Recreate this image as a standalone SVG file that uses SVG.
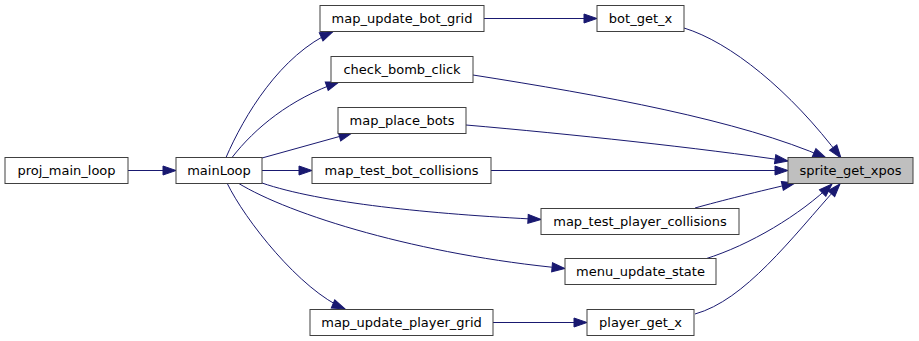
<svg xmlns="http://www.w3.org/2000/svg" width="919" height="341" viewBox="0 0 919 341">
  <style>
    .node rect { fill: #ffffff; stroke: #404040; stroke-width: 1; }
    .node.current rect { fill: #bfbfbf; }
    .node text { font-family: "DejaVu Sans", "Liberation Sans", sans-serif; font-size: 13px; fill: #000000; text-anchor: middle; }
    .edges path { fill: none; stroke: #191970; stroke-width: 1; marker-end: url(#arrow); }
  </style>
  <defs>
    <marker id="arrow" markerUnits="userSpaceOnUse" markerWidth="15" markerHeight="11" refX="14" refY="5.5" orient="auto" viewBox="0 0 15 11">
      <path d="M1,1 L14,5.5 L1,10 Z" fill="#191970" stroke="#191970" stroke-width="1"/>
    </marker>
  </defs>
  <rect width="919" height="341" fill="#ffffff"/>

  <g class="edges">
    <path d="M128,170.5 L176,170.5"/>
    <path d="M226,157.5 C244,116 280,55 333,31.5"/>
    <path d="M232,157.5 C255,128 290,99 339,82"/>
    <path d="M262,158 L352,133"/>
    <path d="M262,170.5 L312,170.5"/>
    <path d="M262,183 C320,203 430,214 541,219.5"/>
    <path d="M238,183 C290,215 420,255 565,268.5"/>
    <path d="M227,183 C245,220 300,290 345,309"/>
    <path d="M484,18.5 L597,18.5"/>
    <path d="M684,28 C730,42 790,90 841,158"/>
    <path d="M473,75 C600,95 740,120 826,158"/>
    <path d="M466,125 C570,134 700,148 788,161"/>
    <path d="M491,170.5 L788,170.5"/>
    <path d="M695,208 C720,201 760,191 795,183"/>
    <path d="M705,259 C750,245 800,215 832,184"/>
    <path d="M695,314 C745,300 790,240 840,184"/>
    <path d="M493,322.5 L587,322.5"/>
  </g>

  <g id="node-proj_main_loop" class="node">
    <rect x="5" y="157.5" width="123" height="26"/>
    <text x="66.5" y="175">proj_main_loop</text>
  </g>
  <g id="node-mainLoop" class="node">
    <rect x="176" y="157.5" width="86" height="26"/>
    <text x="219" y="175">mainLoop</text>
  </g>
  <g id="node-map_update_bot_grid" class="node">
    <rect x="320" y="5.5" width="164" height="26"/>
    <text x="402" y="23">map_update_bot_grid</text>
  </g>
  <g id="node-bot_get_x" class="node">
    <rect x="597" y="5.5" width="87" height="26"/>
    <text x="640.5" y="23">bot_get_x</text>
  </g>
  <g id="node-check_bomb_click" class="node">
    <rect x="331" y="56.5" width="142" height="26"/>
    <text x="402" y="74">check_bomb_click</text>
  </g>
  <g id="node-map_place_bots" class="node">
    <rect x="338" y="107.5" width="128" height="26"/>
    <text x="402" y="125">map_place_bots</text>
  </g>
  <g id="node-map_test_bot_collisions" class="node">
    <rect x="312" y="157.5" width="179" height="26"/>
    <text x="401.5" y="175">map_test_bot_collisions</text>
  </g>
  <g id="node-sprite_get_xpos" class="node current">
    <rect x="788" y="157.5" width="125" height="26"/>
    <text x="850.5" y="175">sprite_get_xpos</text>
  </g>
  <g id="node-map_test_player_collisions" class="node">
    <rect x="541" y="208.5" width="198" height="26"/>
    <text x="640" y="226">map_test_player_collisions</text>
  </g>
  <g id="node-menu_update_state" class="node">
    <rect x="565" y="258.5" width="151" height="26"/>
    <text x="640.5" y="276">menu_update_state</text>
  </g>
  <g id="node-map_update_player_grid" class="node">
    <rect x="310" y="309.5" width="183" height="26"/>
    <text x="401.5" y="327">map_update_player_grid</text>
  </g>
  <g id="node-player_get_x" class="node">
    <rect x="587" y="309.5" width="107" height="26"/>
    <text x="640.5" y="327">player_get_x</text>
  </g>
</svg>
